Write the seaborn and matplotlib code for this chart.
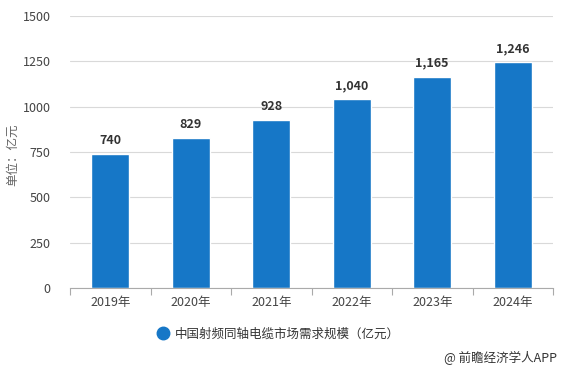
import matplotlib
matplotlib.use("Agg")
import matplotlib.pyplot as plt
import seaborn as sns
import pandas as pd
import numpy as np
from matplotlib.lines import Line2D

years = ["2019年", "2020年", "2021年", "2022年", "2023年", "2024年"]
values = [740, 829, 928, 1040, 1165, 1246]
series_name = "中国射频同轴电缆市场需求规模（亿元）"
yticks = [0, 250, 500, 750, 1000, 1250, 1500]

sns.set_theme(style="white")
plt.rcParams['font.family'] = ['Noto Sans CJK SC', 'DejaVu Sans']

df = pd.DataFrame({"year": years, "value": values})

fig = plt.figure(figsize=(5.64, 3.71), dpi=100)
ax = fig.add_axes([70/564, 1-288/371, (553-70)/564, (288-16)/371])

color = "#1677C7"
sns.barplot(data=df, x="year", y="value", color=color, width=0.47, ax=ax,
            saturation=1)

ax.set_ylim(0, 1500)
ax.set_xlim(-0.5, len(years)-0.5)
ax.set_yticks(yticks)
ax.set_yticklabels([str(t) for t in yticks], fontsize=9, color="#444444")
ax.yaxis.grid(True, color="#d9d9d9", linewidth=0.8)
ax.set_axisbelow(True)
for s in ["top", "right", "left"]:
    ax.spines[s].set_visible(False)
ax.spines["bottom"].set_color("#aaaaaa")
ax.spines["bottom"].set_linewidth(0.8)
ax.tick_params(axis="y", length=0, pad=14)
ax.tick_params(axis="x", which="major", length=0, pad=6, labelsize=9, labelcolor="#444444")
ax.set_xticks(np.arange(-0.5, len(years), 1.0), minor=True)
ax.tick_params(axis="x", which="minor", length=5, color="#aaaaaa", width=0.8, direction="out", bottom=True)
ax.set_xlabel("")
ax.set_ylabel("")

fig.text(13/564, 1-155/371, "单位：亿元", rotation=90, ha="center", va="center",
         fontsize=9, color="#666666")

for i, v in enumerate(values):
    ax.annotate(f"{v:,}", (i, v), xytext=(0, 5), textcoords="offset points",
                ha="center", va="bottom", fontsize=9, fontweight="bold", color="#333333")

h = Line2D([0], [0], marker="o", linestyle="", markersize=9, markerfacecolor=color, markeredgecolor=color)
ax.legend([h], [series_name], loc="center", bbox_to_anchor=((279-70)/483, (288-334)/272),
          frameon=False, fontsize=9, handlelength=0.8, handletextpad=0.6, labelcolor="#333333")

fig.text(557/564, 1-358/371, "@ 前瞻经济学人APP", ha="right", va="center", fontsize=9, color="#333333")

fig.savefig("out.png", dpi=100)
